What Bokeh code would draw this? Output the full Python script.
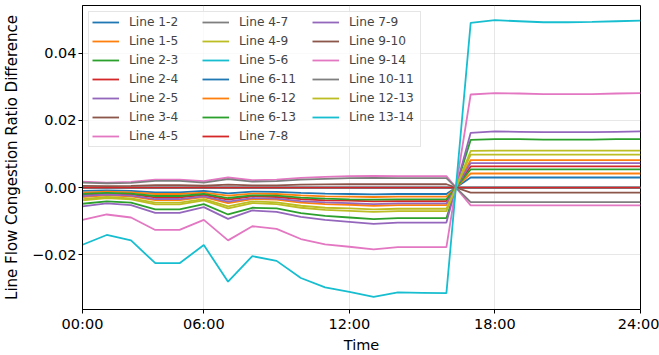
from bokeh.plotting import figure
from bokeh.models import Range1d, FixedTicker, Legend, LegendItem
from bokeh.embed import file_html
from bokeh.resources import INLINE

hour_index = list(range(24))
x_tick_positions = [0, 5, 11, 17, 23]
x_tick_labels = ["00:00", "06:00", "12:00", "18:00", "24:00"]
y_tick_values = [-0.02, 0.0, 0.02, 0.04]
y_tick_labels = ["\u22120.02", "0.00", "0.02", "0.04"]

line_names = ["Line 1-2", "Line 1-5", "Line 2-3", "Line 2-4", "Line 2-5", "Line 3-4",
              "Line 4-5", "Line 4-7", "Line 4-9", "Line 5-6", "Line 6-11", "Line 6-12",
              "Line 6-13", "Line 7-8", "Line 7-9", "Line 9-10", "Line 9-14", "Line 10-11",
              "Line 12-13", "Line 13-14"]

line_colors = ["#1f77b4", "#ff7f0e", "#2ca02c", "#d62728", "#9467bd", "#8c564b",
               "#e377c2", "#7f7f7f", "#bcbd22", "#17becf", "#1f77b4", "#ff7f0e",
               "#2ca02c", "#d62728", "#9467bd", "#8c564b", "#e377c2", "#7f7f7f",
               "#bcbd22", "#17becf"]

line_1_2 = [0.0, 0.0, 0.0, 0.0, 0.0, 0.0, 0.0, 0.0, 0.0, 0.0, 0.0, 0.0,
            0.0, 0.0, 0.0, 0.0, 0.0, 0.0, 0.0, 0.0, 0.0, 0.0, 0.0, 0.0]
line_1_5 = [-0.0028, -0.0023, -0.0026, -0.0037, -0.0037, -0.0028, -0.0046, -0.0034,
            -0.0036, -0.0045, -0.0049, -0.0051, -0.0054, -0.0052, -0.0052, -0.0052,
            0.0082, 0.0082, 0.0082, 0.0082, 0.0082, 0.0082, 0.0082, 0.0082]
line_2_3 = [-0.0048, -0.0041, -0.0045, -0.0065, -0.0065, -0.0049, -0.0080, -0.0060,
            -0.0062, -0.0076, -0.0084, -0.0089, -0.0094, -0.0091, -0.0091, -0.0091,
            0.0142, 0.0144, 0.0144, 0.0143, 0.0143, 0.0143, 0.0144, 0.0144]
line_2_4 = [-0.0022, -0.0018, -0.0020, -0.0029, -0.0029, -0.0022, -0.0036, -0.0026,
            -0.0028, -0.0034, -0.0038, -0.0039, -0.0041, -0.0040, -0.0040, -0.0040,
            0.0063, 0.0063, 0.0063, 0.0063, 0.0063, 0.0063, 0.0063, 0.0063]
line_2_5 = [-0.0056, -0.0047, -0.0052, -0.0075, -0.0075, -0.0058, -0.0093, -0.0068,
            -0.0072, -0.0087, -0.0096, -0.0102, -0.0108, -0.0104, -0.0104, -0.0104,
            0.0163, 0.0167, 0.0166, 0.0165, 0.0165, 0.0165, 0.0166, 0.0167]
line_3_4 = [0.0, 0.0, 0.0, 0.0, 0.0, 0.0, 0.0, 0.0, 0.0, 0.0, 0.0, 0.0,
            0.0, 0.0, 0.0, 0.0, 0.0, 0.0, 0.0, 0.0, 0.0, 0.0, 0.0, 0.0]
line_4_5 = [-0.0096, -0.0080, -0.0089, -0.0126, -0.0126, -0.0096, -0.0157, -0.0115,
            -0.0123, -0.0153, -0.0169, -0.0176, -0.0184, -0.0177, -0.0177, -0.0177,
            0.0277, 0.0281, 0.0280, 0.0278, 0.0278, 0.0278, 0.0280, 0.0281]
line_4_7 = [0.0, 0.0, 0.0, 0.0, 0.0, 0.0, 0.0, 0.0, 0.0, 0.0, 0.0, 0.0,
            0.0, 0.0, 0.0, 0.0, 0.0, 0.0, 0.0, 0.0, 0.0, 0.0, 0.0, 0.0]
line_4_9 = [-0.0038, -0.0031, -0.0035, -0.0050, -0.0050, -0.0038, -0.0062, -0.0046,
            -0.0049, -0.0060, -0.0066, -0.0069, -0.0072, -0.0070, -0.0070, -0.0070,
            0.0109, 0.0110, 0.0110, 0.0110, 0.0110, 0.0110, 0.0110, 0.0110]
line_5_6 = [0.0, 0.0, 0.0, 0.0, 0.0, 0.0, 0.0, 0.0, 0.0, 0.0, 0.0, 0.0,
            0.0, 0.0, 0.0, 0.0, 0.0, 0.0, 0.0, 0.0, 0.0, 0.0, 0.0, 0.0]
line_6_11 = [-0.0010, -0.00085, -0.00095, -0.0014, -0.0014, -0.0010, -0.0017, -0.0012,
             -0.0013, -0.0016, -0.0018, -0.0019, -0.0020, -0.0019, -0.0019, -0.0019,
             0.0030, 0.0030, 0.0030, 0.0030, 0.0030, 0.0030, 0.0030, 0.0030]
line_6_12 = [-0.0015, -0.0012, -0.0014, -0.0019, -0.0019, -0.0015, -0.0024, -0.0018,
             -0.0019, -0.0023, -0.0026, -0.0027, -0.0028, -0.0027, -0.0027, -0.0027,
             0.0042, 0.0042, 0.0042, 0.0042, 0.0042, 0.0042, 0.0042, 0.0042]
line_6_13 = [-0.0019, -0.0016, -0.0018, -0.0025, -0.0025, -0.0019, -0.0031, -0.0023,
             -0.0024, -0.0030, -0.0033, -0.0035, -0.0036, -0.0035, -0.0035, -0.0035,
             0.0054, 0.0054, 0.0054, 0.0054, 0.0054, 0.0054, 0.0054, 0.0054]
line_7_8 = [0.0, 0.0, 0.0, 0.0, 0.0, 0.0, 0.0, 0.0, 0.0, 0.0, 0.0, 0.0,
            0.0, 0.0, 0.0, 0.0, 0.0, 0.0, 0.0, 0.0, 0.0, 0.0, 0.0, 0.0]
line_7_9 = [-0.0025, -0.0021, -0.0024, -0.0034, -0.0034, -0.0026, -0.0042, -0.0031,
            -0.0033, -0.0040, -0.0044, -0.0046, -0.0049, -0.0047, -0.0047, -0.0047,
            0.0073, 0.0073, 0.0073, 0.0073, 0.0073, 0.0073, 0.0073, 0.0073]
line_9_10 = [0.00054, 0.00045, 0.00050, 0.00072, 0.00072, 0.00055, 0.00089, 0.00065,
             0.00069, 0.00086, 0.00095, 0.00099, 0.00104, 0.00099, 0.00100, 0.00100,
             -0.0015, -0.0015, -0.0015, -0.0015, -0.0015, -0.0015, -0.0015, -0.0015]
line_9_14 = [0.0018, 0.0015, 0.0017, 0.0024, 0.0024, 0.0019, 0.0030, 0.0022,
             0.0024, 0.0029, 0.0032, 0.0034, 0.0035, 0.0034, 0.0034, 0.0034,
             -0.0053, -0.0053, -0.0053, -0.0053, -0.0053, -0.0053, -0.0053, -0.0053]
line_10_11 = [0.0015, 0.0013, 0.0014, 0.0020, 0.0020, 0.0015, 0.0025, 0.0018,
              0.0019, 0.0024, 0.0026, 0.0028, 0.0029, 0.0028, 0.0028, 0.0028,
              -0.0043, -0.0043, -0.0043, -0.0043, -0.0043, -0.0043, -0.0043, -0.0043]
line_12_13 = [-0.0034, -0.0028, -0.0032, -0.0045, -0.0045, -0.0034, -0.0056, -0.0041,
              -0.0044, -0.0054, -0.0060, -0.0062, -0.0065, -0.0063, -0.0063, -0.0063,
              0.0098, 0.0098, 0.0098, 0.0098, 0.0098, 0.0098, 0.0098, 0.0098]
line_13_14 = [-0.0170, -0.0141, -0.0157, -0.0225, -0.0225, -0.0171, -0.0280, -0.0204,
              -0.0218, -0.0269, -0.0297, -0.0310, -0.0325, -0.0312, -0.0313, -0.0314,
              0.0490, 0.0498, 0.0495, 0.0492, 0.0492, 0.0493, 0.0495, 0.0497]

series = [line_1_2, line_1_5, line_2_3, line_2_4, line_2_5, line_3_4, line_4_5,
          line_4_7, line_4_9, line_5_6, line_6_11, line_6_12, line_6_13, line_7_8,
          line_7_9, line_9_10, line_9_14, line_10_11, line_12_13, line_13_14]

FONT = "DejaVu Sans"

p = figure(width=659, height=355, output_backend="svg", toolbar_location=None,
           x_range=Range1d(0, 23), y_range=Range1d(-0.03627, 0.05418),
           min_border_left=79, min_border_right=19, min_border_top=5,
           min_border_bottom=42, background_fill_color="white",
           border_fill_color="white")

items = []
for name, color, vals in zip(line_names, line_colors, series):
    r = p.line(hour_index, vals, line_color=color, line_width=1.8)
    items.append(LegendItem(label=name, renderers=[r]))

p.xaxis.ticker = FixedTicker(ticks=x_tick_positions)
p.xgrid.ticker = FixedTicker(ticks=x_tick_positions)
p.xaxis.major_label_overrides = dict(zip(x_tick_positions, x_tick_labels))
p.yaxis.ticker = FixedTicker(ticks=y_tick_values)
p.ygrid.ticker = FixedTicker(ticks=y_tick_values)
p.yaxis.major_label_overrides = dict(zip(y_tick_values, y_tick_labels))

p.xaxis.axis_label = "Time"
p.yaxis.axis_label = "Line Flow Congestion Ratio Difference"
for ax in (p.xaxis, p.yaxis):
    ax.axis_label_text_font = FONT
    ax.axis_label_text_font_style = "normal"
    ax.axis_label_text_color = "black"
    ax.major_label_text_font = FONT
    ax.major_label_text_font_size = "14.5px"
    ax.major_label_text_color = "black"
    ax.minor_tick_line_color = None
    ax.major_tick_in = 0
    ax.major_tick_out = 4
    ax.major_tick_line_color = "black"
    ax.axis_line_color = "black"
p.xaxis.axis_label_text_font_size = "14.5px"
p.yaxis.axis_label_text_font_size = "15px"
p.xaxis.major_label_standoff = 2
p.xaxis.axis_label_standoff = 2
p.yaxis.major_label_standoff = 2
p.yaxis.axis_label_standoff = 8

p.grid.grid_line_color = "#b0b0b0"
p.grid.grid_line_alpha = 0.3
p.grid.grid_line_width = 1
p.outline_line_color = "black"
p.outline_line_width = 1
p.outline_line_alpha = 1

legend = Legend(items=items, ncols=3, location="top_left", margin=6, padding=3,
                spacing=5, glyph_width=27, glyph_height=14, label_height=14,
                label_width=68, label_standoff=10,
                label_text_font=FONT, label_text_font_size="12.2px",
                background_fill_color="white", background_fill_alpha=0.8,
                border_line_color="#cccccc", border_line_width=1)
p.add_layout(legend)

open("out.html", "w").write(file_html(p, INLINE))
